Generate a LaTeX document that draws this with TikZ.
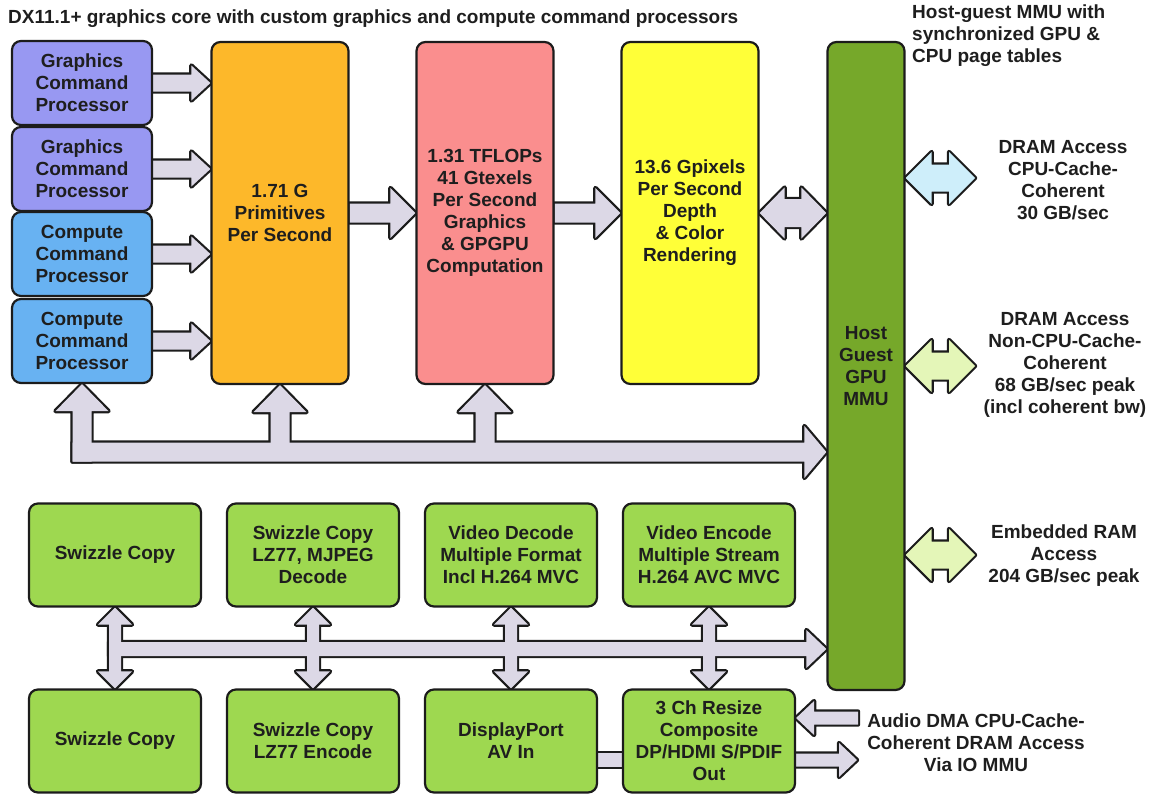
\documentclass[tikz,border=0pt]{standalone}
\usepackage{fontspec}
\setmainfont{Liberation Sans}
\usetikzlibrary{calc,backgrounds}

\definecolor{gfxblue}{RGB}{152,152,242}
\definecolor{cmpblue}{RGB}{104,178,242}
\definecolor{primorange}{RGB}{253,184,42}
\definecolor{texred}{RGB}{250,142,142}
\definecolor{pixyellow}{RGB}{255,255,56}
\definecolor{mmugreen}{RGB}{118,168,42}
\definecolor{iogreen}{RGB}{158,216,80}
\definecolor{lav}{RGB}{220,216,230}
\definecolor{lblue}{RGB}{206,238,250}
\definecolor{lgreen}{RGB}{228,246,184}
\definecolor{lineblack}{RGB}{28,28,28}
\definecolor{ink}{RGB}{30,30,30}

\tikzset{
    box/.style={draw=lineblack, line width=2.2pt, rounded corners=9pt, align=center,
        inner sep=0pt, text=ink, font=\bfseries\fontsize{19}{22}\selectfont},
    cp/.style={box, minimum width=140pt, minimum height=84pt},
    tall/.style={box, minimum width=137pt, minimum height=342pt},
    io/.style={box, fill=iogreen, minimum width=172pt, minimum height=103pt},
    note/.style={align=center, inner sep=0pt, text=ink, font=\bfseries\fontsize{19}{22}\selectfont},
    blk/.style={fill=lav, line width=4.4pt, line join=round},
    % single block arrow: half shaft, half head, head length
    sarr/.style n args={3}{to path={
        ($(\tikztostart)!#1!90:(\tikztotarget)$)
        -- ($(\tikztotarget)!#3!(\tikztostart)!#1!90:(\tikztotarget)$)
        -- ($(\tikztotarget)!#3!(\tikztostart)!#2!90:(\tikztotarget)$)
        -- (\tikztotarget)
        -- ($(\tikztotarget)!#3!(\tikztostart)!#2!-90:(\tikztotarget)$)
        -- ($(\tikztotarget)!#3!(\tikztostart)!#1!-90:(\tikztotarget)$)
        -- ($(\tikztostart)!#1!-90:(\tikztotarget)$)
        -- cycle}},
    % double block arrow
    darr/.style n args={3}{to path={
        (\tikztostart)
        -- ($(\tikztostart)!#3!(\tikztotarget)!#2!90:(\tikztotarget)$)
        -- ($(\tikztostart)!#3!(\tikztotarget)!#1!90:(\tikztotarget)$)
        -- ($(\tikztotarget)!#3!(\tikztostart)!#1!90:(\tikztotarget)$)
        -- ($(\tikztotarget)!#3!(\tikztostart)!#2!90:(\tikztotarget)$)
        -- (\tikztotarget)
        -- ($(\tikztotarget)!#3!(\tikztostart)!#2!-90:(\tikztotarget)$)
        -- ($(\tikztotarget)!#3!(\tikztostart)!#1!-90:(\tikztotarget)$)
        -- ($(\tikztostart)!#3!(\tikztotarget)!#1!-90:(\tikztotarget)$)
        -- ($(\tikztostart)!#3!(\tikztotarget)!#2!-90:(\tikztotarget)$)
        -- cycle}},
    % plain bar, no heads
    plainbar/.style={to path={
        ($(\tikztostart)!#1!90:(\tikztotarget)$)
        -- ($(\tikztotarget)!#1!-90:(\tikztostart)$)
        -- ($(\tikztotarget)!#1!90:(\tikztostart)$)
        -- ($(\tikztostart)!#1!-90:(\tikztotarget)$)
        -- cycle}}
}

\begin{document}
\begin{tikzpicture}[x=1pt, y=-1pt]
    \useasboundingbox (0,0) rectangle (1149,796);

    % Graphics core
    \node [cp, fill=gfxblue] (gcpA) at (82,83) {Graphics\\Command\\Processor};
    \node [cp, fill=gfxblue] (gcpB) at (82,169) {Graphics\\Command\\Processor};
    \node [cp, fill=cmpblue] (ccpA) at (82,254) {Compute\\Command\\Processor};
    \node [cp, fill=cmpblue] (ccpB) at (82,341) {Compute\\Command\\Processor};
    \node [tall, fill=primorange] (prim) at (280,213) {1.71 G\\Primitives\\Per Second};
    \node [tall, fill=texred] (tex) at (485,213) {1.31 TFLOPs\\41 Gtexels\\Per Second\\Graphics\\\& GPGPU\\Computation};
    \node [tall, fill=pixyellow] (pix) at (690,213) {13.6 Gpixels\\Per Second\\Depth\\\& Color\\Rendering};
    \node [box, fill=mmugreen, minimum width=77pt, minimum height=648pt] (mmu) at (866,366) {Host\\Guest\\GPU\\MMU};

    % Copy, video and display engines
    \node [io] (swA) at (115,555) {Swizzle Copy};
    \node [io] (lzdA) at (313,555) {Swizzle Copy\\LZ77, MJPEG\\Decode};
    \node [io] (vdec) at (511,555) {Video Decode\\Multiple Format\\Incl H.264 MVC};
    \node [io] (venc) at (709,555) {Video Encode\\Multiple Stream\\H.264 AVC MVC};
    \node [io] (swB) at (115,741) {Swizzle Copy};
    \node [io] (lzeB) at (313,741) {Swizzle Copy\\LZ77 Encode};
    \node [io] (dpav) at (511,741) {DisplayPort\\AV In};
    \node [io] (rsz) at (709,741) {3 Ch Resize\\Composite\\DP/HDMI S/PDIF\\Out};

    % Labels
    \node [note, anchor=base west] (title) at (8,23) {DX11.1+ graphics core with custom graphics and compute command processors};
    \node [note, align=left, anchor=north west] (mmunote) at (912,5) {Host-guest MMU with\\synchronized GPU \&\\CPU page tables};
    \node [note] (dramAnote) at (1063,180) {DRAM Access\\CPU-Cache-\\Coherent\\30 GB/sec};
    \node [note] (dramBnote) at (1065,365) {DRAM Access\\Non-CPU-Cache-\\Coherent\\68 GB/sec peak\\(incl coherent bw)};
    \node [note] (esramnote) at (1064,556) {Embedded RAM\\Access\\204 GB/sec peak};
    \node [note] (audionote) at (976,743) {Audio DMA CPU-Cache-\\Coherent DRAM Access\\Via IO MMU};

    % Arrow ends
    \coordinate (bus1) at (0,452);
    \coordinate (bus2) at (0,649);
    \coordinate (dpbar) at (0,760);
    \coordinate (dramA) at (975,178);
    \coordinate (dramB) at (975,366);
    \coordinate (esram) at (975,555);
    \coordinate (audio) at (858,718);
    \coordinate (spdif) at (857,760);
    \coordinate (b1corner) at ($(ccpB.south |- bus1)+(0,9.5)$);
    \coordinate (b1start) at ($(ccpB.south |- bus1)+(-9.5,0)$);
    \coordinate (b2start) at ($(swA.south |- bus2)+(-6,0)$);

    % Block arrows: outline pass, then fill pass
    \begin{pgfonlayer}{background}
    \foreach \oc in {lineblack,none} {
        \foreach \n in {gcpA,gcpB,ccpA,ccpB}
            \path [blk, draw=\oc, sarr={8.5pt}{17.5pt}{19pt}] (\n.east) to (prim.west |- \n.east);
        \path [blk, draw=\oc, sarr={9.5pt}{25pt}{25pt}] (prim.east) to (tex.west);
        \path [blk, draw=\oc, sarr={9.5pt}{25pt}{25pt}] (tex.east) to (pix.west);
        \path [blk, draw=\oc, darr={14pt}{25.5pt}{25pt}] (pix.east) to (mmu.west |- pix.east);
        \path [blk, draw=\oc, fill=lblue, darr={13.5pt}{26pt}{26pt}] (mmu.east |- dramA) to (dramA);
        \path [blk, draw=\oc, fill=lgreen, darr={13.5pt}{26pt}{26pt}] (mmu.east |- dramB) to (dramB);
        \path [blk, draw=\oc, fill=lgreen, darr={13.5pt}{26pt}{26pt}] (mmu.east |- esram) to (esram);
        % upper bus
        \path [blk, draw=\oc, sarr={9.5pt}{26pt}{22pt}] (b1start) to (mmu.west |- bus1);
        \path [blk, draw=\oc, sarr={9.5pt}{26.5pt}{27pt}] (b1corner) to (ccpB.south);
        \path [blk, draw=\oc, sarr={9.5pt}{26.5pt}{27pt}] (prim.south |- bus1) to (prim.south);
        \path [blk, draw=\oc, sarr={9.5pt}{26.5pt}{27pt}] (tex.south |- bus1) to (tex.south);
        % lower bus
        \path [blk, draw=\oc, sarr={7pt}{19pt}{20pt}] (b2start) to (mmu.west |- bus2);
        \path [blk, draw=\oc, darr={6pt}{17pt}{17pt}] (swA.south) to (swB.north);
        \path [blk, draw=\oc, darr={6pt}{17pt}{17pt}] (lzdA.south) to (lzeB.north);
        \path [blk, draw=\oc, darr={6pt}{17pt}{17pt}] (vdec.south) to (dpav.north);
        \path [blk, draw=\oc, darr={6pt}{17pt}{17pt}] (venc.south) to (rsz.north);
        \path [blk, draw=\oc, plainbar={7pt}] (dpav.east |- dpbar) to (rsz.west |- dpbar);
        \path [blk, draw=\oc, sarr={6.5pt}{17pt}{18pt}] (audio) to (rsz.east |- audio);
        \path [blk, draw=\oc, sarr={6.5pt}{17pt}{18pt}] (rsz.east |- spdif) to (spdif);
    }
    \end{pgfonlayer}
\end{tikzpicture}
\end{document}
